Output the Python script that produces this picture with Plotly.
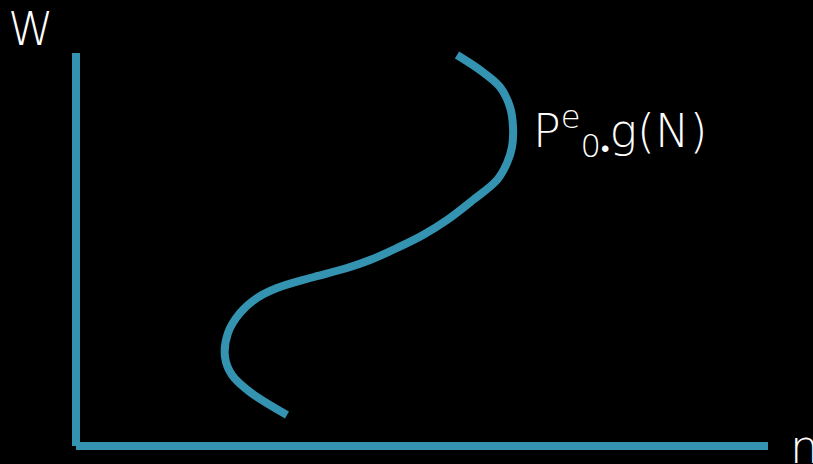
import plotly.graph_objects as go

# Diagram coordinates (x to the right, y downward, in drawing units)
axis_x = [76, 76]
axis_y = [53, 446]
base_x = [76, 768]
base_y = [446, 446]

# The S-shaped curve Pe0·g(N), from top to bottom
curve_x = [457, 480, 500, 510, 513, 512, 507, 497, 473, 447, 423, 397, 370, 347,
           310, 277, 257, 240, 228, 225, 232, 250, 287]
curve_y = [55, 70, 87, 107, 127, 147, 163, 180, 200, 220, 235, 248, 260, 268,
           278, 288, 298, 313, 333, 357, 375, 392, 415]

teal = "#3593B2"
font_family = "'DejaVu Sans', sans-serif"
label_font = dict(family=font_family, size=46, color="white", weight=300)

fig = go.Figure()
fig.add_trace(go.Scatter(x=axis_x, y=axis_y, mode="lines",
                         line=dict(color=teal, width=8), hoverinfo="skip"))
fig.add_trace(go.Scatter(x=base_x, y=base_y, mode="lines",
                         line=dict(color=teal, width=8), hoverinfo="skip"))
fig.add_trace(go.Scatter(x=curve_x, y=curve_y, mode="lines",
                         line=dict(color=teal, width=8, shape="spline", smoothing=1.0),
                         hoverinfo="skip"))

# Axis names, placed in paper coordinates so they may sit at the page edge
fig.add_annotation(xref="paper", yref="paper", x=31 / 813, y=1, text="W",
                   showarrow=False, xanchor="center", yanchor="top",
                   font=label_font)
fig.add_annotation(xref="paper", yref="paper", x=788 / 813, y=0, text="n",
                   showarrow=False, xanchor="left", yanchor="bottom",
                   font=label_font, yshift=-12)
fig.add_annotation(x=531, y=131,
                   text="P<sup>e</sup><sub>0<span style='font-size:24px'>•</span></sub>g(N)",
                   showarrow=False, xanchor="left", yanchor="middle", font=label_font)

fig.update_layout(
    width=813, height=464,
    margin=dict(l=0, r=0, t=0, b=0),
    paper_bgcolor="black", plot_bgcolor="black",
    showlegend=False,
    xaxis=dict(range=[0, 813], visible=False, fixedrange=True),
    yaxis=dict(range=[464, 0], visible=False, fixedrange=True),
)

fig.write_html("out.html")
